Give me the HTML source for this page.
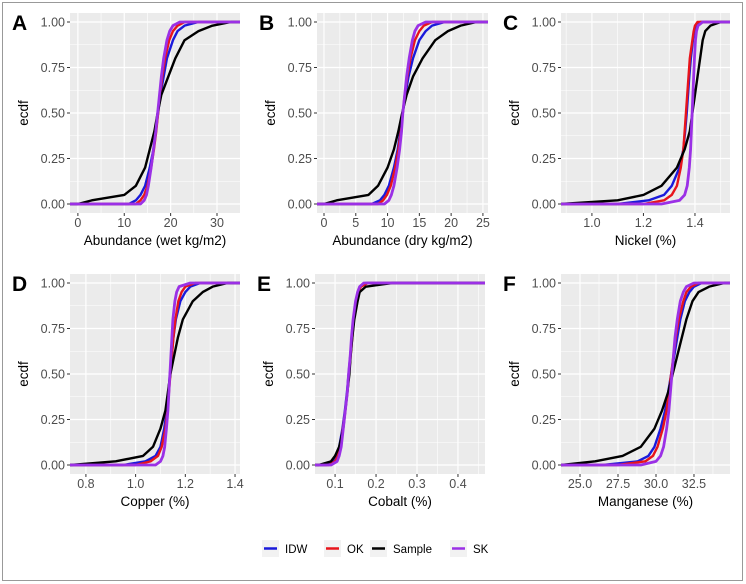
<!DOCTYPE html>
<html><head><meta charset="utf-8"><style>
html,body{margin:0;padding:0;background:#fff;}
svg{display:block;font-family:"Liberation Sans",Arial,sans-serif;}
</style></head><body>
<svg id="chart" width="746" height="584" viewBox="0 0 746 584">
<rect x="2.5" y="2.5" width="740" height="578" fill="#fff" stroke="#999" stroke-width="1"/>
</svg>
<script>
const probs = [0,0.02,0.05,0.1,0.2,0.3,0.4,0.5,0.6,0.7,0.8,0.9,0.95,0.98,1];
const seriesNames = ["IDW","OK","Sample","SK"];
const seriesColors = {IDW:"#1a1adb",OK:"#e8141b",Sample:"#000000",SK:"#9b30e6"};
// panel A - wet abundance
const aIDW = [11,12.5,13.5,14.5,15.5,16.3,16.8,17.3,17.8,18.5,19.2,20.5,21.5,23,26];
const aOK = [12.5,13.5,14.3,15,15.8,16.4,16.9,17.3,17.7,18.2,18.8,19.7,20.5,21.5,23];
const aSample = [0,3,10,12.5,14.5,15.5,16.5,17.2,18,19.5,21,23,26,29,33];
const aSK = [13.5,14.3,14.8,15.2,15.8,16.3,16.8,17.2,17.6,18,18.5,19.2,19.8,20.5,22];
const aTicks = [0,10,20,30];
// panel B - dry abundance
const bIDW = [7.5,8.8,9.5,10.2,11,11.6,12,12.4,12.8,13.3,14,15,16,17,19];
const bOK = [8.5,9.3,9.9,10.5,11.2,11.7,12.1,12.4,12.7,13.1,13.6,14.3,15,15.7,17];
const bSample = [0,2,7,8.5,10,11,11.7,12.3,13,14,15.5,17.5,19.5,21.5,24];
const bSK = [9.5,10.2,10.6,11,11.5,11.9,12.2,12.4,12.7,13,13.4,13.9,14.3,14.8,16];
const bTicks = [0,5,10,15,20,25];
// panel C - nickel
const cIDW = [1.1,1.22,1.28,1.31,1.34,1.355,1.362,1.368,1.373,1.378,1.384,1.392,1.398,1.405,1.42];
const cOK = [1.2,1.28,1.31,1.33,1.345,1.355,1.36,1.365,1.37,1.375,1.38,1.39,1.395,1.40,1.41];
const cSample = [0.88,1.1,1.2,1.27,1.33,1.36,1.38,1.39,1.40,1.41,1.42,1.43,1.44,1.46,1.5];
const cSK = [1.27,1.34,1.36,1.37,1.378,1.383,1.386,1.389,1.392,1.395,1.398,1.402,1.406,1.412,1.43];
const cTicks = [1.0,1.2,1.4];
// panel D - copper
const dIDW = [0.95,1.04,1.08,1.10,1.115,1.125,1.132,1.138,1.145,1.152,1.162,1.18,1.2,1.22,1.26];
const dOK = [1.0,1.06,1.09,1.105,1.12,1.128,1.134,1.14,1.146,1.152,1.16,1.172,1.185,1.2,1.24];
const dSample = [0.74,0.92,1.03,1.07,1.10,1.12,1.13,1.14,1.155,1.17,1.19,1.23,1.27,1.31,1.37];
const dSK = [1.08,1.1,1.11,1.117,1.124,1.13,1.134,1.138,1.142,1.146,1.15,1.158,1.165,1.175,1.22];
const dTicks = [0.8,1.0,1.2,1.4];
// panel E - cobalt
const eIDW = [0.08,0.095,0.105,0.11,0.118,0.124,0.129,0.133,0.137,0.141,0.145,0.152,0.157,0.162,0.175];
const eOK = [0.085,0.1,0.107,0.112,0.119,0.125,0.13,0.134,0.138,0.142,0.146,0.152,0.157,0.163,0.18];
const eSample = [0.06,0.09,0.1,0.11,0.12,0.125,0.13,0.135,0.138,0.142,0.147,0.155,0.16,0.175,0.24];
const eSK = [0.09,0.105,0.11,0.115,0.12,0.125,0.13,0.133,0.137,0.14,0.144,0.15,0.155,0.16,0.17];
const eTicks = [0.1,0.2,0.3,0.4];
// panel F - manganese
const fIDW = [26.5,28.8,29.5,29.9,30.3,30.6,30.8,31,31.2,31.4,31.6,31.9,32.2,32.5,33];
const fOK = [27.5,29.3,29.8,30.1,30.45,30.7,30.85,31,31.15,31.3,31.5,31.8,32,32.3,32.8];
const fSample = [23.8,26,27.8,29,29.9,30.4,30.8,31.1,31.4,31.7,32,32.4,32.8,33.5,34.5];
const fSK = [29,30,30.3,30.5,30.7,30.85,30.95,31.05,31.15,31.25,31.4,31.6,31.8,32,32.5];
const fTicks = [25,27.5,30,32.5];
const yTicks = [0,0.25,0.5,0.75,1];

const panels = [
 {id:"a",letter:"A",title:"Abundance (wet kg/m2)",dom:[-1.7,34.96],ticks:aTicks,dec:0,s:{IDW:aIDW,OK:aOK,Sample:aSample,SK:aSK},L:70,R:240,T:13,B:213},
 {id:"b",letter:"B",title:"Abundance (dry kg/m2)",dom:[-1.1,25.8],ticks:bTicks,dec:0,s:{IDW:bIDW,OK:bOK,Sample:bSample,SK:bSK},L:317,R:488,T:13,B:213},
 {id:"c",letter:"C",title:"Nickel (%)",dom:[0.88,1.536],ticks:cTicks,dec:1,s:{IDW:cIDW,OK:cOK,Sample:cSample,SK:cSK},L:561,R:730,T:13,B:213},
 {id:"d",letter:"D",title:"Copper (%)",dom:[0.736,1.42],ticks:dTicks,dec:1,s:{IDW:dIDW,OK:dOK,Sample:dSample,SK:dSK},L:70,R:240,T:274,B:474},
 {id:"e",letter:"E",title:"Cobalt (%)",dom:[0.051,0.466],ticks:eTicks,dec:1,s:{IDW:eIDW,OK:eOK,Sample:eSample,SK:eSK},L:315,R:485,T:274,B:474},
 {id:"f",letter:"F",title:"Manganese (%)",dom:[23.75,34.87],ticks:fTicks,dec:1,s:{IDW:fIDW,OK:fOK,Sample:fSample,SK:fSK},L:561,R:730,T:274,B:474}
];
const NS="http://www.w3.org/2000/svg";
const svg=document.getElementById("chart");
function mk(tag,attrs,parent){const e=document.createElementNS(NS,tag);for(const k in attrs)e.setAttribute(k,attrs[k]);(parent||svg).appendChild(e);return e;}

panels.forEach(p=>{
 const g=mk("g",{});
 
 
 const ph=p.B-p.T, pad=ph*0.045;
 const y=v=>p.B-pad-v*(ph-2*pad);
 const x=v=>p.L+(v-p.dom[0])/(p.dom[1]-p.dom[0])*(p.R-p.L);
 const bg=mk("rect",{x:p.L,y:p.T,width:p.R-p.L,height:ph,fill:"#ebebeb"},g);
 
 
 for(let i=0;i<yTicks.length-1;i++){const v=(yTicks[i]+yTicks[i+1])/2;mk("line",{x1:p.L,x2:p.R,y1:y(v),y2:y(v),stroke:"#fff","stroke-width":0.6},g);}
 const step=p.ticks[1]-p.ticks[0];
 for(let v=p.ticks[0]-step/2;v<p.dom[1];v+=step){if(v>p.dom[0])mk("line",{x1:x(v),x2:x(v),y1:p.T,y2:p.B,stroke:"#fff","stroke-width":0.6},g);}
 yTicks.forEach(v=>{
  mk("line",{x1:p.L,x2:p.R,y1:y(v),y2:y(v),stroke:"#fff","stroke-width":1.2},g);
  mk("line",{x1:p.L-3,x2:p.L,y1:y(v),y2:y(v),stroke:"#333","stroke-width":1},g);
  const t=mk("text",{x:p.L-5,y:y(v)+4.3,"text-anchor":"end","font-size":"12.5",fill:"#4d4d4d"},g);
  t.textContent=v.toFixed(2);
  
  
 });
 p.ticks.forEach(v=>{
  mk("line",{x1:x(v),x2:x(v),y1:p.T,y2:p.B,stroke:"#fff","stroke-width":1.2},g);
  mk("line",{x1:x(v),x2:x(v),y1:p.B,y2:p.B+3,stroke:"#333","stroke-width":1},g);
  const t=mk("text",{x:x(v),y:p.B+14,"text-anchor":"middle","font-size":"12.5",fill:"#4d4d4d"},g);
  t.textContent=v.toFixed(p.dec);
  
  
 });
 seriesNames.forEach(n=>{
  const arr=p.s[n];
  let d="M"+p.L+","+y(0)+" L"+x(arr[0])+","+y(0);
  arr.forEach((v,i)=>{d+=" L"+x(v).toFixed(2)+","+y(probs[i]).toFixed(2);});
  d+=" L"+p.R+","+y(1);
  const path=mk("path",{d:d,fill:"none",stroke:seriesColors[n],"stroke-width":n==="SK"?2.8:2.4,"stroke-linejoin":"round"},g);
  
  
 });
 const xt=mk("text",{x:(p.L+p.R)/2,y:p.B+32,"text-anchor":"middle","font-size":"13.5",fill:"#000"},g);
 xt.textContent=p.title;
 
 
 const yt=mk("text",{x:0,y:0,"text-anchor":"middle","font-size":"13.5",fill:"#000",transform:"translate("+(p.L-42)+","+((p.T+p.B)/2)+") rotate(-90)"},g);
 yt.textContent="ecdf";
 
 
 const lt=mk("text",{x:p.L-58,y:p.T+17,"font-size":"21","font-weight":"bold",fill:"#000"},g);
 lt.textContent=p.letter;
 
 
});

const legendX=[262,324,370,450];
const lg=mk("g",{});


seriesNames.forEach((n,i)=>{
 const it=mk("g",{},lg);
 
 
 mk("rect",{x:legendX[i],y:540,width:17,height:17,fill:"#f2f2f2"},it);
 mk("line",{x1:legendX[i]+2,x2:legendX[i]+15,y1:548.5,y2:548.5,stroke:seriesColors[n],"stroke-width":2.5},it);
 const t=mk("text",{x:legendX[i]+23,y:553,"font-size":"11.5",fill:"#000"},it);
 t.textContent=n;
});
</script>
</body></html>
